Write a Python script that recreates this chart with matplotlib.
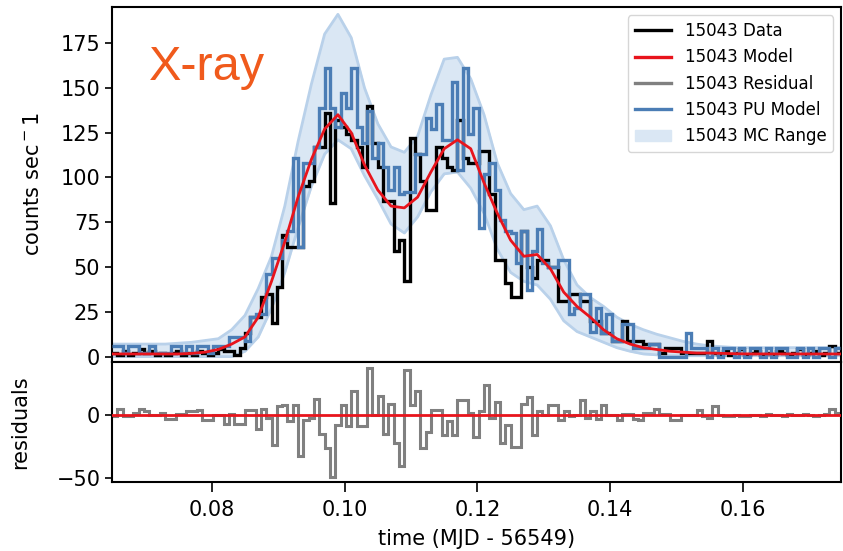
import numpy as np
import matplotlib
matplotlib.use("Agg")
import matplotlib.pyplot as plt
from matplotlib.lines import Line2D
from matplotlib.patches import Patch

# bins of the light curve
t_start = 0.065
bin_width = 0.0008
n_bins = 137

data_counts = [2, 1, 3, 1, 2, 4, 2, 3, 1, 2, 1, 2, 3, 1, 2, 1, 3, 2, 1, 2,
               4, 3, 3, 1, 5, 13, 22, 22, 33, 35, 19, 39, 68, 61, 61, 61, 95, 98, 117, 117,
               136, 86, 132, 128, 124, 121, 117, 106, 140, 119, 106, 87, 87, 59, 65, 42, 122, 113, 98, 82,
               82, 117, 111, 106, 104, 132, 111, 108, 108, 115, 115, 91, 54, 54, 41, 33, 33, 70, 50, 44,
               54, 54, 50, 50, 31, 31, 35, 35, 31, 31, 20, 20, 13, 13, 9, 9, 20, 9, 9, 9,
               7, 7, 7, 2, 5, 5, 5, 2, 2, 2, 2, 2, 9, 2, 1, 3, 1, 2, 4, 1,
               2, 3, 1, 2, 1, 3, 2, 1, 2, 4, 1, 2, 3, 1, 2, 6, 2]

pu_counts = [6, 6, 2, 6, 6, 2, 2, 6, 2, 2, 2, 6, 6, 2, 6, 2, 6, 6, 2, 6,
             6, 6, 11, 11, 11, 9, 22, 24, 24, 46, 55, 55, 65, 70, 111, 61, 108, 108, 117, 139,
             161, 139, 128, 147, 139, 161, 128, 119, 137, 111, 119, 106, 93, 106, 91, 92, 92, 113, 113, 133,
             127, 141, 121, 121, 153, 104, 161, 124, 139, 72, 102, 108, 93, 76, 70, 69, 52, 70, 37, 59,
             71, 52, 50, 50, 54, 54, 24, 27, 35, 35, 14, 27, 13, 24, 9, 9, 18, 18, 5, 5,
             5, 7, 7, 0, 0, 0, 0, 0, 13, 5, 5, 5, 0, 5, 0, 5, 5, 0, 5, 0,
             5, 5, 0, 5, 0, 5, 5, 0, 0, 5, 0, 5, 0, 5, 5, 0, 5]

residual = [-1, 5, -1, -1, 2, 5, 3, 0, 0, 2, -3, -3, 1, 1, 3, 3, 4, -4, -4, 0,
            0, -7, 1, -7, -7, 4, 4, -11, 5, -2, -24, 7, 8, -5, 8, -32, -4, -2, 13, -15,
            -26, -49, -8, 8, -9, 19, -9, -9, 37, 0, 15, -15, 9, -22, -40, 36, 8, 19, -26, -13,
            4, 4, -16, -5, -16, 12, 12, 2, -17, 3, 24, -2, 10, -22, -8, -25, -25, 9, 14, -16,
            3, 0, 8, 8, -4, 3, -1, 0, 12, -2, 3, -3, 8, 0, 0, -4, 1, 1, -3, -4,
            2, 2, 5, 1, 1, -4, -4, 0, 0, 0, 4, -1, -2, 7, 0, -1, -1, 0, -1, -1,
            0, 0, -1, 1, 0, 0, -1, 1, 0, 0, 1, 0, -1, 0, 1, 5, 2]

# smooth curves sampled every 0.002
model_t = np.arange(0.065, 0.1751, 0.002)
model = [1.5, 1.5, 1.5, 1.5, 1.5, 1.5, 1.8, 2.5, 4, 7, 11, 22, 42, 64, 89, 110, 127, 135,
         125, 107, 93, 84, 83, 89, 103, 116, 121, 116, 97, 80, 65, 56, 57, 49, 36, 28, 22, 15,
         10, 7, 5, 4, 3, 2.5, 2, 2, 1.8, 1.6, 1.5, 1.5, 1.5, 1.5, 1.5, 1.5, 1.5, 1.5]
mc_upper = [7, 7, 7, 7, 7, 7.5, 8, 9, 10, 15, 23, 38, 56, 84, 120, 152, 180, 191,
            178, 150, 130, 117, 114, 123, 146, 166, 167, 155, 135, 108, 91, 82, 84, 73, 54, 40, 33, 28,
            22, 18, 15, 12.5, 10.5, 8.5, 7, 6, 5.5, 5, 5, 5, 5, 5, 5, 5, 5, 5]
mc_lower = [0, 0, 0, 0, 0, 0, 0, 0, 0, 0, 3, 11, 27, 47, 72, 95, 113, 121,
            116, 101, 88, 74, 69, 78, 92, 102, 103, 94, 80, 60, 47, 42, 40, 32, 20, 14, 11, 8,
            5, 3, 1.5, 1, 0.5, 0.5, 0.5, 0.5, 0.5, 0.5, 0.5, 0.5, 0.5, 0.5, 0.5, 0.5, 0.5, 0.5]

edges = t_start + bin_width * np.arange(n_bins + 1)

black = '#000000'
red = '#e8141c'
grey = '#808080'
blue = '#4b7db5'
fill_c = '#dae7f4'
fill_edge = '#b9d1ea'
fs = 15

fig = plt.figure(figsize=(8.43, 5.51), dpi=100)
ax = fig.add_axes([0.133, 0.343, 0.865, 0.644])
axr = fig.add_axes([0.133, 0.125, 0.865, 0.218], sharex=ax)

ax.fill_between(model_t, mc_lower, mc_upper, color=fill_c, zorder=1)
ax.plot(model_t, mc_upper, color=fill_edge, lw=2, zorder=1)
ax.plot(model_t, mc_lower, color=fill_edge, lw=2, zorder=1)
ax.stairs(data_counts, edges, baseline=None, color=black, lw=2.4, zorder=2)
ax.stairs(pu_counts, edges, baseline=None, color=blue, lw=2.4, zorder=3)
ax.plot(model_t, model, color=red, lw=2, zorder=4)

ax.set_xlim(0.065, 0.1748)
ax.set_ylim(-3, 195)
ax.set_yticks([0, 25, 50, 75, 100, 125, 150, 175])
ax.tick_params(labelbottom=False, labelsize=fs, length=5, width=1.2)
ax.set_ylabel('counts sec$^-$1', fontsize=fs)
ax.yaxis.set_label_coords(-0.095, 0.5)

ax.text(0.05, 0.83, 'X-ray', transform=ax.transAxes, fontsize=35,
        color='#f05a1c', family='Liberation Sans', va='center', ha='left')

handles = [Line2D([], [], color=black, lw=2.4),
           Line2D([], [], color=red, lw=2.4),
           Line2D([], [], color=grey, lw=2.4),
           Line2D([], [], color=blue, lw=2.4),
           Patch(facecolor=fill_c, edgecolor=fill_c)]
labels = ['15043 Data', '15043 Model', '15043 Residual', '15043 PU Model', '15043 MC Range']
ax.legend(handles, labels, loc='upper right', fontsize=12, framealpha=0.8,
          borderaxespad=0.5, handlelength=2.2)

axr.stairs(residual, edges, baseline=None, color=grey, lw=2.2, zorder=2)
axr.axhline(0, color=red, lw=2, zorder=3)
axr.set_ylim(-53, 42)
axr.set_yticks([-50, 0])
axr.set_xticks([0.08, 0.10, 0.12, 0.14, 0.16])
axr.set_xticklabels(['0.08', '0.10', '0.12', '0.14', '0.16'])
axr.tick_params(labelsize=fs, length=5, width=1.2)
axr.tick_params(axis='x', length=7, pad=6)
axr.set_ylabel('residuals', fontsize=fs)
axr.yaxis.set_label_coords(-0.113, 0.5)
axr.set_xlabel('time (MJD - 56549)', fontsize=fs, labelpad=6)

for a in (ax, axr):
    for s in a.spines.values():
        s.set_linewidth(1.5)

fig.savefig('out.png', dpi=100)
